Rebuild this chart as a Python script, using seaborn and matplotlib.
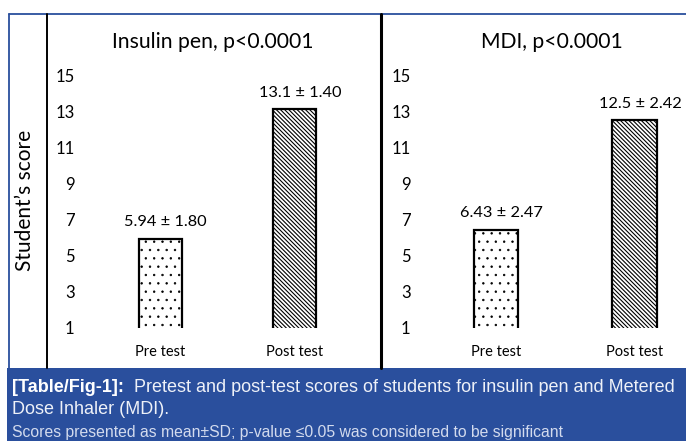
import numpy as np
import pandas as pd
import matplotlib
matplotlib.use("Agg")
import matplotlib.pyplot as plt
from matplotlib.lines import Line2D
from matplotlib.patches import Rectangle
import seaborn as sns

# data
tests = ["Pre test", "Post test"]
panel_titles = ["Insulin pen, p<0.0001", "MDI, p<0.0001"]
insulin_mean = [5.94, 13.1]
insulin_sd = [1.80, 1.40]
mdi_mean = [6.43, 12.5]
mdi_sd = [2.47, 2.42]
y_ticks = [1, 3, 5, 7, 9, 11, 13, 15]

caption_bold = "[Table/Fig-1]:"
caption_line1 = "  Pretest and post-test scores of students for insulin pen and Metered"
caption_line2 = "Dose Inhaler (MDI)."
caption_line3 = "Scores presented as mean\u00b1SD; p-value \u22640.05 was considered to be significant"

sns.set_theme(style="white")
plt.rcParams["font.family"] = ["Lato", "DejaVu Sans"]
plt.rcParams["hatch.linewidth"] = 0.8

W, H = 686, 441
fig = plt.figure(figsize=(W / 100, H / 100), dpi=100)
fig.patch.set_facecolor("white")

def px(x0, y_top, w, h):
    # pixel box (from top-left) -> figure fraction
    return [x0 / W, 1 - (y_top + h) / H, w / W, h / H]

ax1 = fig.add_axes(px(80, 75, 292, 253))
ax2 = fig.add_axes(px(416, 75, 270, 253))

panels = [
    (ax1, insulin_mean, insulin_sd, (-0.595, 1.576)),
    (ax2, mdi_mean, mdi_sd, (-0.578, 1.372)),
]

for ax, means, sds, xl in panels:
    df = pd.DataFrame({"test": tests, "score": means})
    sns.barplot(data=df, x="test", y="score", ax=ax, width=0.32,
                color="white", edgecolor="black", linewidth=1.6,
                saturation=1)
    for bar, h in zip(ax.patches, ["..", "\\" * 8]):
        bar.set_hatch(h)
        bar.set_facecolor("white")
    try:
        ax.patches[0].set_hatch_linewidth(0.5)
    except AttributeError:
        pass
    for i, (m, s) in enumerate(zip(means, sds)):
        ax.annotate(f"{m:g} \u00b1 {s:.2f}", xy=(i, m), xytext=(4, 9),
                    textcoords="offset points", ha="center", va="baseline",
                    fontsize=11.8, color="black", annotation_clip=False)
    ax.set_ylim(1, 15)
    ax.set_xlim(*xl)
    ax.set_yticks(y_ticks)
    ax.tick_params(axis="y", length=0, pad=4, labelsize=12, labelcolor="black")
    ax.tick_params(axis="x", length=0, pad=12, labelsize=10.5, labelcolor="black")
    ax.set_xlabel("")
    ax.set_ylabel("")
    ax.set_facecolor("none")
    for sp in ax.spines.values():
        sp.set_visible(False)

# panel titles
fig.text(213 / W, 1 - 48 / H, panel_titles[0], ha="center", va="baseline",
         fontsize=15.2, color="black")
fig.text(552 / W, 1 - 48 / H, panel_titles[1], ha="center", va="baseline",
         fontsize=15.2, color="black")

fig.text(25 / W, 1 - 200 / H, "Student\u2019s score", rotation=90,
         ha="center", va="center", fontsize=15, color="black")

# frame lines
blue = "#2a4f9d"
fig.add_artist(Line2D([9 / W, 1], [1 - 14 / H, 1 - 14 / H], color=blue, lw=1.3))
fig.add_artist(Line2D([9 / W, 9 / W], [1 - 14 / H, 1 - 368 / H], color=blue, lw=1.3))
fig.add_artist(Line2D([47 / W, 47 / W], [1 - 14 / H, 1 - 368 / H], color="black", lw=1.4))
fig.add_artist(Line2D([381 / W, 381 / W], [1 - 14 / H, 1 - 368 / H], color="black", lw=2.2))

# caption box
fig.add_artist(Rectangle((7 / W, 0), 1 - 7 / W, (H - 368) / H,
                         transform=fig.transFigure, facecolor=blue,
                         edgecolor="none"))
cap_font = ["Liberation Sans", "DejaVu Sans"]
t1 = fig.text(12 / W, 1 - 392 / H, caption_bold, ha="left", va="baseline",
              fontsize=13, fontweight="bold", color="white", family=cap_font)
fig.canvas.draw()
x_end = t1.get_window_extent().x1 / W
fig.text(x_end, 1 - 392 / H, caption_line1, ha="left", va="baseline",
         fontsize=13, color="#eef1f8", family=cap_font)
fig.text(12 / W, 1 - 414 / H, caption_line2, ha="left", va="baseline",
         fontsize=13, color="#eef1f8", family=cap_font)
fig.text(12 / W, 1 - 437 / H, caption_line3, ha="left", va="baseline",
         fontsize=11.3, color="#d3dbee", family=cap_font)

fig.savefig("out.png", dpi=100)
